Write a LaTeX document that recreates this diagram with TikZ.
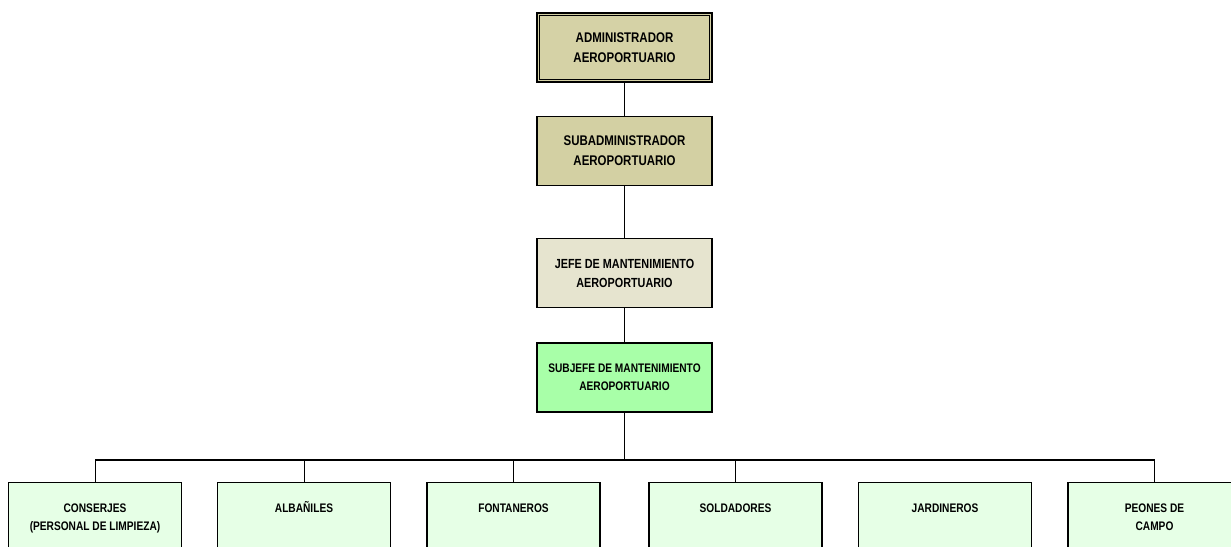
\documentclass[tikz,border=0pt]{standalone}
\usepackage{fontspec}
\newfontfamily\nf[FakeStretch=0.82]{Liberation Sans}
\definecolor{tanA}{HTML}{D5D2A6}
\definecolor{tanB}{HTML}{D3D0A3}
\definecolor{tanC}{HTML}{E6E4CF}
\definecolor{greenA}{HTML}{A8FFA8}
\definecolor{leafc}{HTML}{E6FFE6}
\begin{document}
\begin{tikzpicture}[x=1pt,y=-1pt,
  box/.style={draw=black, line width=1.2pt, minimum width=175pt, minimum height=69pt, inner sep=0pt, align=center, font=\nf\bfseries\fontsize{14}{20}\selectfont},
  leaf/.style={draw=black, line width=1.2pt, fill=leafc, minimum width=173pt, minimum height=90pt, anchor=north, inner sep=0pt},
  leaftext/.style={anchor=north, inner sep=0pt, align=center, font=\nf\bfseries\fontsize{12.4}{18.5}\selectfont},
  wire/.style={line width=1pt, draw=black}]
\useasboundingbox (0,0) rectangle (1231,546);
\clip (0,0) rectangle (1231,546);
\fill[white] (0,0) rectangle (1231,546);

% top chain
\node[box, fill=tanA] (adm) at (624.5,47.5) {ADMINISTRADOR\\AEROPORTUARIO};
\draw[line width=1pt] ([shift={(3.5,-3.5)}]adm.south west) rectangle ([shift={(-3.5,3.5)}]adm.north east);
\node[box, fill=tanB] (sub) at (624.5,151) {SUBADMINISTRADOR\\AEROPORTUARIO};
\node[box, fill=tanC, font=\nf\bfseries\fontsize{13.2}{19}\selectfont] (jefe) at (624.5,273) {JEFE DE MANTENIMIENTO\\AEROPORTUARIO};
\node[box, fill=greenA, font=\nf\bfseries\fontsize{12.4}{18}\selectfont] (subj) at (624.5,377.5) {SUBJEFE DE MANTENIMIENTO\\AEROPORTUARIO};

\draw[wire] (adm.south) -- (sub.north);
\draw[wire] (sub.south) -- (jefe.north);
\draw[wire] (jefe.south) -- (subj.north);

% leaves
\node[leaf] (l1) at (95,482) {};
\node[leaf] (l2) at (304,482) {};
\node[leaf] (l3) at (513.5,482) {};
\node[leaf] (l4) at (735.5,482) {};
\node[leaf] (l5) at (945,482) {};
\node[leaf] (l6) at (1154.5,482) {};

\node[leaftext] (t1) at ([yshift=-18pt]l1.north) {\rule{0pt}{12pt}CONSERJES\\(PERSONAL DE LIMPIEZA)};
\node[leaftext] (t2) at ([yshift=-18pt]l2.north) {\rule{0pt}{12pt}ALBAÑILES};
\node[leaftext] (t3) at ([yshift=-18pt]l3.north) {\rule{0pt}{12pt}FONTANEROS};
\node[leaftext] (t4) at ([yshift=-18pt]l4.north) {\rule{0pt}{12pt}SOLDADORES};
\node[leaftext] (t5) at ([yshift=-18pt]l5.north) {\rule{0pt}{12pt}JARDINEROS};
\node[leaftext] (t6) at ([yshift=-18pt]l6.north) {\rule{0pt}{12pt}PEONES DE\\CAMPO};

% bus
\coordinate (busL) at (95,460);
\coordinate (busR) at (1154.5,460);
\draw[wire, line width=1.3pt] (busL) -- (busR);
\draw[wire, line width=1.3pt] (subj.south) -- (subj.south |- busL);
\foreach \n in {l1,l2,l3,l4,l6}{
  \draw[wire] (\n.north) -- (\n.north |- busL);
}
\end{tikzpicture}
\end{document}
